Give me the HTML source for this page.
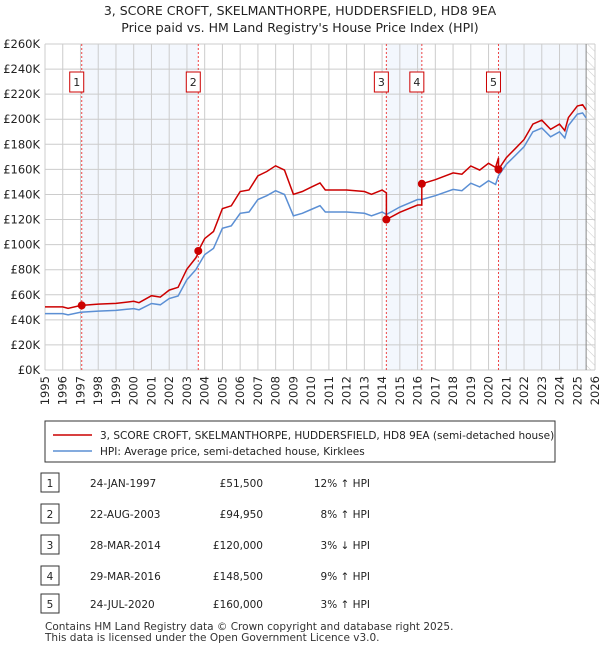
<!DOCTYPE html>
<html><head><meta charset="utf-8"><style>
body{margin:0;background:#fff;font-family:"Liberation Sans","DejaVu Sans",sans-serif;}
#wrap{position:relative;width:600px;height:650px;overflow:hidden}
svg text{font-family:"DejaVu Sans","Liberation Sans",sans-serif}
</style></head><body><div id="wrap">
<svg id="svg" width="600" height="650"></svg>
</div>
<script>
const years=[1995,1996,1997,1998,1999,2000,2001,2002,2003,2004,2005,2006,2007,2008,2009,2010,2011,2012,2013,2014,2015,2016,2017,2018,2019,2020,2021,2022,2023,2024,2025,2026];
const yTicks=[0,20,40,60,80,100,120,140,160,180,200,220,240,260];
const hpiT=[1995,1996,1996.3,1997,1998,1999,2000,2000.3,2001,2001.5,2002,2002.5,2003,2003.5,2004,2004.5,2005,2005.5,2006,2006.5,2007,2007.5,2008,2008.5,2009,2009.5,2010,2010.5,2010.8,2011,2012,2013,2013.4,2014,2014.24,2015,2016,2016.24,2017,2018,2018.5,2019,2019.5,2020,2020.4,2020.56,2021,2021.5,2022,2022.5,2023,2023.5,2024,2024.3,2024.5,2025,2025.3,2025.5];
const hpiV=[45,45,44,46,47,47.5,49,48,53,52,57,59,72,80,92,97,113,115,125,126,136,139,143,140,123,125,128,131,126,126,126,125,123,126,124,130,136,136,139,144,143,149,146,151,148,155,164,171,178,190,193,186,190,185,195,204,205,201];
const saleT=[1997.07,2003.64,2014.24,2016.24,2020.56];
const saleV=[51.5,94.95,120,148.5,160];
const saleLabels=["1","2","3","4","5"];
const rows=[["24-JAN-1997","£51,500","12% ↑ HPI"],["22-AUG-2003","£94,950","8% ↑ HPI"],["28-MAR-2014","£120,000","3% ↓ HPI"],["29-MAR-2016","£148,500","9% ↑ HPI"],["24-JUL-2020","£160,000","3% ↑ HPI"]];
const X0=45,X1=595,Y0=370,Y1=44,endT=2025.5;
const sx=t=>X0+(t-1995)/31*(X1-X0), sy=v=>Y0-v/260*(Y0-Y1);
const svg=document.getElementById('svg'),NS='http://www.w3.org/2000/svg';
function mk(tag,a,txt,name){const e=document.createElementNS(NS,tag);for(const k in a)e.setAttribute(k,a[k]);if(txt!=null)e.textContent=txt;


svg.appendChild(e);return e;}
function hpiAt(t){for(let i=1;i<hpiT.length;i++)if(t<=hpiT[i]){const f=(t-hpiT[i-1])/(hpiT[i]-hpiT[i-1]);return hpiV[i-1]+f*(hpiV[i]-hpiV[i-1]);}return hpiV[hpiV.length-1];}
mk('text',{x:300,y:15,'text-anchor':'middle','font-size':12.5,fill:'#222'},"3, SCORE CROFT, SKELMANTHORPE, HUDDERSFIELD, HD8 9EA",'chart-title');
mk('text',{x:300,y:32,'text-anchor':'middle','font-size':12.5,fill:'#222'},"Price paid vs. HM Land Registry's House Price Index (HPI)",'chart-subtitle');
[[0,1],[2,3],[4,null]].forEach((p,i)=>{const a=sx(saleT[p[0]]),b=p[1]==null?sx(endT):sx(saleT[p[1]]);mk('rect',{x:a,y:Y1,width:b-a,height:Y0-Y1,fill:'#eef3fc',opacity:0.7},null,'ownership-band-'+(i+1));});
const defs=document.createElementNS(NS,'defs');defs.innerHTML='<pattern id="h" width="6" height="6" patternUnits="userSpaceOnUse" patternTransform="rotate(-45)"><line x1="0" y1="0" x2="0" y2="6" stroke="#ccc" stroke-width="1"/></pattern>';svg.appendChild(defs);
mk('rect',{x:sx(endT),y:Y1,width:X1-sx(endT),height:Y0-Y1,fill:'url(#h)'},null,'forecast-hatch');
years.forEach(y=>{mk('line',{x1:sx(y),x2:sx(y),y1:Y1,y2:Y0,stroke:'#ccc'},null,'x-grid');
const x=sx(y)+4,yy=376;
mk('text',{x:x,y:yy,'text-anchor':'end','font-size':11.5,fill:'#222',transform:'rotate(-90 '+x+' '+yy+')'},String(y),'x-tick-label');});
yTicks.forEach(v=>{mk('line',{x1:X0,x2:X1,y1:sy(v),y2:sy(v),stroke:'#ccc'},null,'y-grid');mk('text',{x:40,y:sy(v)+4,'text-anchor':'end','font-size':11.5,fill:'#222'},'£'+v+'K','y-tick-label');});
mk('line',{x1:sx(endT),x2:sx(endT),y1:Y1,y2:Y0,stroke:'#888'},null,'data-end-line');
saleT.forEach((t,i)=>{mk('line',{x1:sx(t),x2:sx(t),y1:Y1,y2:Y0,stroke:'#e44','stroke-dasharray':'2,2','stroke-width':1},null,'sale-line-'+(i+1));
mk('rect',{x:sx(t)-12,y:72,width:14,height:20,fill:'#fff',stroke:'#c00'},null,'sale-marker-box');
mk('text',{x:sx(t)-5,y:86,'text-anchor':'middle','font-size':11,fill:'#222'},saleLabels[i],'sale-marker-label');});
let hp='';hpiT.forEach((t,i)=>hp+=(i?'L':'M')+sx(t).toFixed(1)+','+sy(hpiV[i]).toFixed(1));
mk('path',{d:hp,fill:'none',stroke:'#5b8fd4','stroke-width':1.5},null,'hpi-line');
const ratios=saleT.map((t,i)=>saleV[i]/hpiAt(t));
let pts=[];const tt=hpiT.concat(saleT).sort((a,b)=>a-b);
tt.forEach(t=>{let k=0;for(let i=0;i<saleT.length;i++)if(t>=saleT[i])k=i;
if(saleT.includes(t)){const j=saleT.indexOf(t);if(j>0)pts.push([t,hpiAt(t)*ratios[j-1]]);}
pts.push([t,hpiAt(t)*ratios[k]]);});
let rp='';pts.forEach((p,i)=>rp+=(i?'L':'M')+sx(p[0]).toFixed(1)+','+sy(p[1]).toFixed(1));
mk('path',{d:rp,fill:'none',stroke:'#c00','stroke-width':1.5},null,'price-paid-line');
saleT.forEach((t,i)=>mk('circle',{cx:sx(t),cy:sy(saleV[i]),r:4,fill:'#c00'},null,'sale-point-'+(i+1)));
mk('rect',{x:45,y:421,width:510,height:41,fill:'#fff',stroke:'#333'},null,'legend');
mk('line',{x1:53,x2:92,y1:435,y2:435,stroke:'#c00','stroke-width':1.5},null,'legend-swatch-price');
mk('text',{x:100,y:439,'font-size':10.5,fill:'#222'},"3, SCORE CROFT, SKELMANTHORPE, HUDDERSFIELD, HD8 9EA (semi-detached house)",'legend-entry-price');
mk('line',{x1:53,x2:92,y1:451,y2:451,stroke:'#5b8fd4','stroke-width':1.5},null,'legend-swatch-hpi');
mk('text',{x:100,y:455,'font-size':10.5,fill:'#222'},"HPI: Average price, semi-detached house, Kirklees",'legend-entry-hpi');
const ry=[483,514,545,576,604];
rows.forEach((r,i)=>{mk('rect',{x:41,y:ry[i]-10,width:18,height:19,fill:'#fff',stroke:'#333'},null,'table-num-box');
mk('text',{x:50,y:ry[i]+4,'text-anchor':'middle','font-size':10.5,fill:'#222'},saleLabels[i],'table-num');
mk('text',{x:90,y:ry[i]+4,'font-size':10.5,fill:'#222'},r[0],'table-date');
mk('text',{x:263,y:ry[i]+4,'text-anchor':'end','font-size':10.5,fill:'#222'},r[1],'table-price');
mk('text',{x:370,y:ry[i]+4,'text-anchor':'end','font-size':10.5,fill:'#222'},r[2],'table-hpi-diff');});
mk('text',{x:45,y:630,'font-size':10.5,fill:'#333'},"Contains HM Land Registry data © Crown copyright and database right 2025.",'footer-line-1');
mk('text',{x:45,y:641,'font-size':10.5,fill:'#333'},"This data is licensed under the Open Government Licence v3.0.",'footer-line-2');
</script></body></html>
